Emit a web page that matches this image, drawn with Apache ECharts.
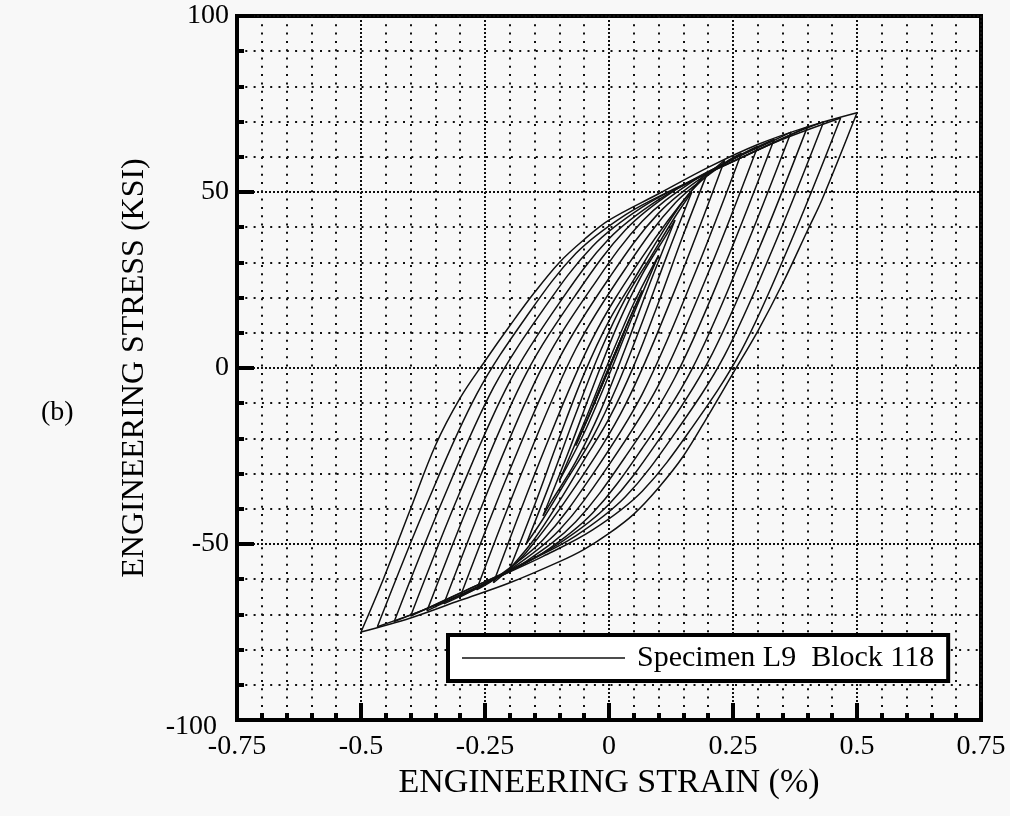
<!DOCTYPE html>
<html>
<head>
<meta charset="utf-8">
<script src="https://cdn.jsdelivr.net/npm/echarts@6/dist/echarts.min.js"></script>
<style>
html,body{margin:0;padding:0;background:#f8f8f8;}
#chart{width:1010px;height:816px;}
</style>
</head>
<body>
<div id="chart"></div>
<script>
// strain (%) , stress (ksi), one loop per pair of branches
// up = loading branch (negative tip -> positive tip), dn = unloading branch
var up01 = [[-0.5,-75],[-0.455,-60],[-0.4,-40],[-0.35,-22],[-0.3,-8.5],[-0.25,2],[-0.2,12],[-0.15,21.5],[-0.1,30],[-0.05,36.5],[0,42],[0.1,49.5],[0.2,57],[0.3,63.5],[0.4,68.5],[0.5,72.5]];
var dn01 = [[0.5,72.5],[0.43,48],[0.4,39],[0.35,24],[0.3,10.5],[0.25,-1.5],[0.2,-13.5],[0.15,-25],[0.1,-34],[0.05,-41.5],[0,-47],[-0.05,-51.5],[-0.1,-55],[-0.2,-61],[-0.3,-66],[-0.4,-71],[-0.5,-75]];
var up02 = [[-0.467,-73.5],[-0.367,-38.5],[-0.267,-7.5],[-0.167,14.5],[-0.067,32.5],[0.033,43.5],[0.133,51],[0.233,57.5],[0.333,64],[0.467,71]];
var dn02 = [[0.467,71],[0.367,36],[0.267,5],[0.167,-17],[0.067,-35],[-0.033,-46],[-0.133,-53.5],[-0.233,-60],[-0.333,-66.5],[-0.467,-73.5]];
var up03 = [[-0.433,-72],[-0.333,-36.8],[-0.233,-5.6],[-0.133,16.5],[-0.033,34.6],[0.067,45.7],[0.167,53.2],[0.267,59.8],[0.367,66.3],[0.433,70]];
var dn03 = [[0.433,70],[0.333,34.8],[0.233,3.6],[0.133,-18.5],[0.033,-36.6],[-0.067,-47.7],[-0.167,-55.2],[-0.267,-61.8],[-0.367,-68.3],[-0.433,-72]];
var up04 = [[-0.4,-70.5],[-0.3,-35.1],[-0.2,-3.8],[-0.1,18.5],[0,36.7],[0.1,47.8],[0.2,55.4],[0.3,61.9],[0.4,68.5]];
var dn04 = [[0.4,68.5],[0.3,33.1],[0.2,1.8],[0.1,-20.5],[0,-38.7],[-0.1,-49.8],[-0.2,-57.4],[-0.3,-63.9],[-0.4,-70.5]];
var up05 = [[-0.367,-69],[-0.267,-33.3],[-0.167,-1.6],[-0.067,20.8],[0.033,39.2],[0.133,50.5],[0.233,58.1],[0.333,64.7],[0.367,67]];
var dn05 = [[0.367,67],[0.267,31.3],[0.167,-0.4],[0.067,-22.8],[-0.033,-41.2],[-0.133,-52.5],[-0.233,-60.1],[-0.333,-66.7],[-0.367,-69]];
var up06 = [[-0.333,-67],[-0.233,-31.1],[-0.133,0.7],[-0.033,23.2],[0.067,41.7],[0.167,52.9],[0.267,60.6],[0.333,65]];
var dn06 = [[0.333,65],[0.233,29.1],[0.133,-2.7],[0.033,-25.2],[-0.067,-43.7],[-0.167,-54.9],[-0.267,-62.6],[-0.333,-67]];
var up07 = [[-0.3,-65],[-0.2,-29],[-0.1,2.8],[0,25.5],[0.1,44],[0.2,55.3],[0.3,63]];
var dn07 = [[0.3,63],[0.2,27],[0.1,-4.8],[0,-27.5],[-0.1,-46],[-0.2,-57.3],[-0.3,-65]];
var up08 = [[-0.267,-63],[-0.167,-26.7],[-0.067,5.4],[0.033,28.2],[0.133,46.8],[0.233,58.2],[0.267,61]];
var dn08 = [[0.267,61],[0.167,24.7],[0.067,-7.4],[-0.033,-30.2],[-0.133,-48.8],[-0.233,-60.2],[-0.267,-63]];
var up09 = [[-0.233,-61],[-0.133,-24.2],[-0.033,8.4],[0.067,31.5],[0.167,50.4],[0.233,59]];
var dn09 = [[0.233,59],[0.133,22.2],[0.033,-10.4],[-0.067,-33.5],[-0.167,-52.4],[-0.233,-61]];
var up10 = [[-0.2,-57],[-0.15,-38.9],[-0.1,-19.7],[-0.05,-1.6],[0,13.4],[0.05,25.1],[0.1,36.8],[0.15,47.5],[0.2,56]];
var dn10 = [[0.2,56],[0.15,37.9],[0.1,18.7],[0.05,0.6],[0,-14.4],[-0.05,-26.1],[-0.1,-37.8],[-0.15,-48.5],[-0.2,-57]];
var up11 = [[-0.167,-50],[-0.117,-32],[-0.067,-13],[-0.017,4.9],[0.033,19.7],[0.083,31.3],[0.133,42.9],[0.167,50]];
var dn11 = [[0.167,50],[0.117,32],[0.067,13],[0.017,-4.9],[-0.033,-19.7],[-0.083,-31.3],[-0.133,-42.9],[-0.167,-50]];
var up12 = [[-0.133,-42],[-0.083,-24.3],[-0.033,-5.6],[0.017,12.1],[0.067,26.6],[0.117,38.1],[0.133,42]];
var dn12 = [[0.133,42],[0.083,24.3],[0.033,5.6],[-0.017,-12.1],[-0.067,-26.6],[-0.117,-38.1],[-0.133,-42]];
var up13 = [[-0.1,-32],[-0.05,-15.5],[0,2],[0.05,18.4],[0.1,32]];
var dn13 = [[0.1,32],[0.05,15.5],[0,-2],[-0.05,-18.4],[-0.1,-32]];
var up14 = [[-0.067,-22],[-0.017,-5.8],[0.033,11.3],[0.067,22]];
var dn14 = [[0.067,22],[0.017,5.8],[-0.033,-11.3],[-0.067,-22]];
var up15 = [[-0.033,-11],[0.017,5.3],[0.033,11]];
var dn15 = [[0.033,11],[-0.017,-5.3],[-0.033,-11]];

var legendName = 'Specimen L9  Block 118';
var branches = [up01,dn01,up02,dn02,up03,dn03,up04,dn04,up05,dn05,up06,dn06,up07,dn07,
                up08,dn08,up09,dn09,up10,dn10,up11,dn11,up12,dn12,up13,dn13,up14,dn14,up15,dn15];

var serif = 'Liberation Serif';
var chart = echarts.init(document.getElementById('chart'));

var series = branches.map(function(d){
    return {
        type:'line',
        name: legendName,
        data: d,
        smooth: 0.35,
        symbol:'none',
        silent:true,
        lineStyle:{color:'#111', width:1.5}
    };
});

var gridMajor = {color:'#111', width:2, type:[2,2]};
var gridMinor = {color:'#111', width:2, type:[2,6.3]};

var option = {
    backgroundColor:'#f8f8f8',
    animation:false,
    title:{
        text:'(b)', left:36, top:394,
        textStyle:{fontFamily:serif, fontSize:28, fontWeight:'normal', color:'#000'}
    },
    legend:{
        left:448, top:635,
        data:[{name:legendName, icon:'rect', itemStyle:{color:'#111'}}],
        itemWidth:163, itemHeight:1.5,
        padding:[8,14,8,14],
        borderColor:'#000', borderWidth:4,
        backgroundColor:'#fff',
        textStyle:{fontFamily:serif, fontSize:30, color:'#000', padding:[0,0,0,7]}
    },
    grid:{
        left:237, right:29, top:16, bottom:96,
        show:true, borderColor:'#000', borderWidth:4
    },
    xAxis:{
        type:'value', min:-0.75, max:0.75, interval:0.25,
        name:'ENGINEERING STRAIN (%)', nameLocation:'middle', nameGap:39,
        nameTextStyle:{fontFamily:serif, fontSize:34, color:'#000'},
        axisLine:{show:true, onZero:false, lineStyle:{color:'#000', width:4}},
        axisTick:{show:true, inside:true, length:17, lineStyle:{color:'#000', width:4}},
        minorTick:{show:true, splitNumber:5, length:7, lineStyle:{color:'#000', width:4}},
        splitLine:{show:true, lineStyle:gridMajor},
        minorSplitLine:{show:true, lineStyle:gridMinor},
        axisLabel:{fontFamily:serif, fontSize:28, color:'#000', margin:13}
    },
    yAxis:{
        type:'value', min:-100, max:100, interval:50,
        name:'ENGINEERING STRESS (KSI)', nameLocation:'middle', nameGap:86,
        nameTextStyle:{fontFamily:serif, fontSize:32, color:'#000'},
        axisLine:{show:true, onZero:false, lineStyle:{color:'#000', width:4}},
        axisTick:{show:true, inside:true, length:17, lineStyle:{color:'#000', width:4}},
        minorTick:{show:true, splitNumber:5, length:7, lineStyle:{color:'#000', width:4}},
        splitLine:{show:true, lineStyle:gridMajor},
        minorSplitLine:{show:true, lineStyle:gridMinor},
        axisLabel:{
            fontFamily:serif, fontSize:28, color:'#000', margin:8,
            formatter:function(v){ return v === -100 ? '{low|-100}' : String(v); },
            rich:{low:{fontFamily:serif, fontSize:28, color:'#000', padding:[14,12,0,0]}}
        }
    },
    series: series
};
chart.setOption(option);
</script>
</body>
</html>
